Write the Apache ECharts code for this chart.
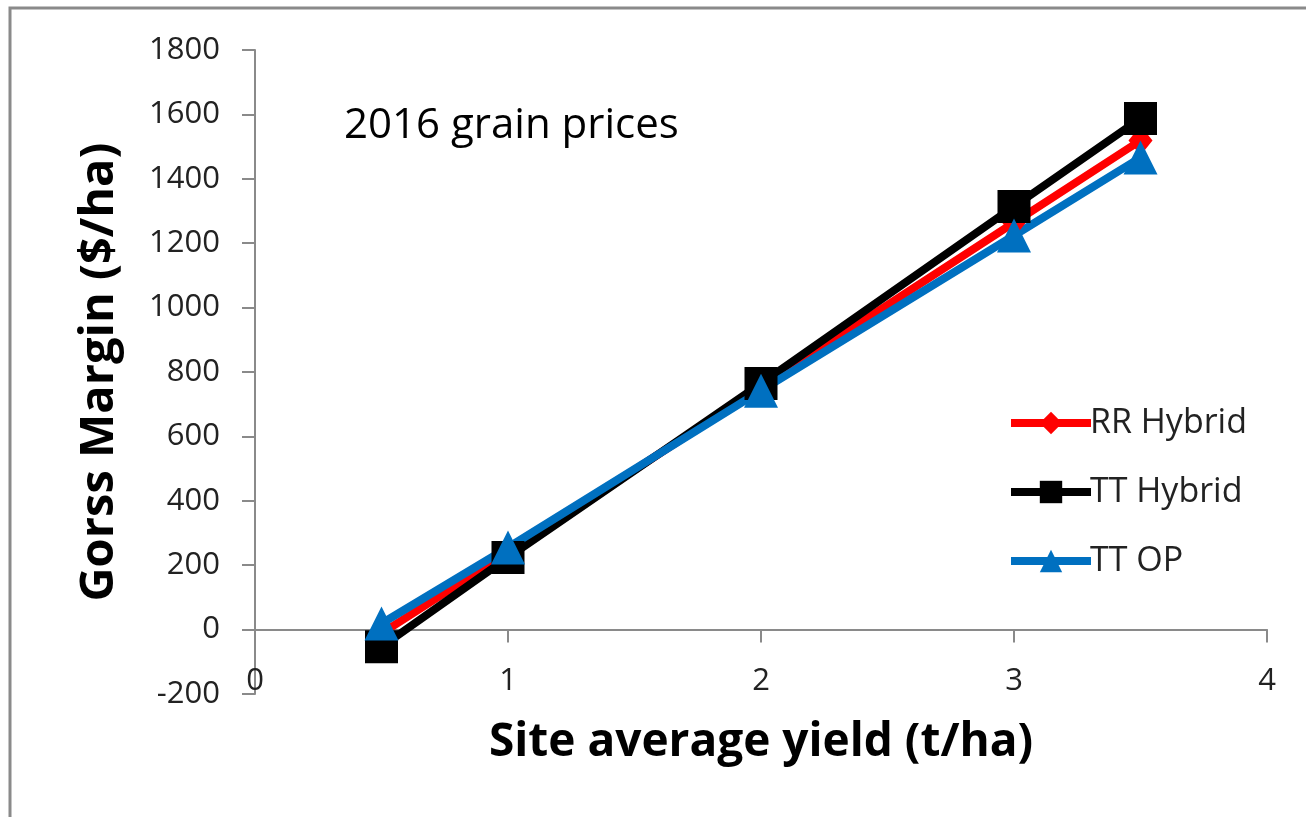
<!DOCTYPE html>
<html>
<head>
<meta charset="utf-8">
<script src="https://cdn.jsdelivr.net/npm/echarts@6/dist/echarts.min.js"></script>
<style>
html,body{margin:0;padding:0;background:#fff;}
#c{width:1306px;height:817px;}
</style>
</head>
<body>
<div id="c"></div>
<script>
const xValues = [0.5, 1, 2, 3, 3.5];
const rrHybrid = [-12, 240, 752, 1264, 1519];
const ttHybrid = [-53, 224, 764, 1314, 1587];
const ttOP = [19, 255, 742, 1224, 1466];
const seriesNames = ['RR Hybrid', 'TT Hybrid', 'TT OP'];
const yTicks = {min: -200, max: 1800, interval: 200};
const xTicks = {min: 0, max: 4, interval: 1};

const FONT = '"Open Sans", "Noto Sans", sans-serif';
const pairs = arr => xValues.map((x, i) => [x, arr[i]]);

const chart = echarts.init(document.getElementById('c'), null, {renderer: 'canvas'});
chart.setOption({
  animation: false,
  backgroundColor: '#fff',
  textStyle: {fontFamily: FONT},
  title: {
    text: '2016 grain prices',
    left: 339, top: 100,
    textStyle: {fontFamily: FONT, fontSize: 42, fontWeight: 'normal', color: '#000'}
  },
  graphic: [{
    type: 'polyline',
    shape: {points: [[10, 817], [10, 8], [1306, 8]]},
    style: {stroke: '#8a8a8a', lineWidth: 3, fill: null}
  }],
  legend: {
    orient: 'vertical',
    left: 1002, top: 400,
    itemWidth: 80, itemHeight: 28,
    itemGap: 33,
    lineStyle: {width: 8},
    textStyle: {fontFamily: FONT, fontSize: 34, color: '#222', lineHeight: 36, padding: [0,0,0,-6]},
    data: seriesNames
  },
  grid: {left: 255, right: 39, top: 50, bottom: 123, containLabel: false, outerBoundsMode: 'none'},
  xAxis: {
    type: 'value',
    min: xTicks.min, max: xTicks.max, interval: xTicks.interval,
    name: 'Site average yield (t/ha)',
    nameLocation: 'middle', nameGap: 26,
    nameTextStyle: {fontFamily: FONT, fontSize: 46, fontWeight: 'bold', color: '#000'},
    axisLine: {onZero: true, lineStyle: {color: '#8a8a8a', width: 2}},
    axisTick: {show: true, length: 13, lineStyle: {color: '#8a8a8a', width: 2}},
    axisLabel: {margin: -28, fontFamily: FONT, fontSize: 31, color: '#222', formatter: v => String(v)},
    splitLine: {show: false}
  },
  yAxis: {
    type: 'value',
    min: yTicks.min, max: yTicks.max, interval: yTicks.interval,
    name: 'Gorss Margin ($/ha)',
    nameLocation: 'middle', nameGap: 132, nameRotate: 90,
    nameTextStyle: {fontFamily: FONT, fontSize: 47, fontWeight: 'bold', color: '#000'},
    axisLine: {show: true, lineStyle: {color: '#8a8a8a', width: 2}},
    axisTick: {show: true, length: 13, lineStyle: {color: '#8a8a8a', width: 2}},
    axisLabel: {margin: 35, fontFamily: FONT, fontSize: 31, color: '#222', formatter: v => String(v)},
    splitLine: {show: false}
  },
  series: [
    {
      name: seriesNames[0], type: 'line', data: pairs(rrHybrid),
      symbol: 'diamond', symbolSize: [24, 30],
      lineStyle: {color: '#ff0000', width: 8},
      itemStyle: {color: '#ff0000'}
    },
    {
      name: seriesNames[1], type: 'line', data: pairs(ttHybrid),
      symbol: 'rect', symbolSize: 33,
      lineStyle: {color: '#000000', width: 8},
      itemStyle: {color: '#000000'}
    },
    {
      name: seriesNames[2], type: 'line', data: pairs(ttOP),
      symbol: 'triangle', symbolSize: 34,
      lineStyle: {color: '#0070c0', width: 8},
      itemStyle: {color: '#0070c0'}
    }
  ]
});
</script>
</body>
</html>
